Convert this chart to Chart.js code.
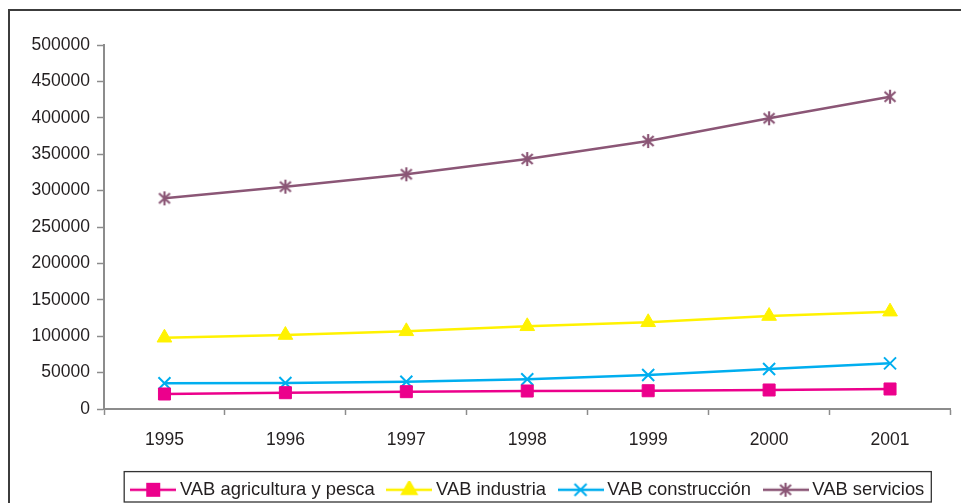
<!DOCTYPE html>
<html>
<head>
<meta charset="utf-8">
<script src="https://cdn.jsdelivr.net/npm/chart.js@4.4.1/dist/chart.umd.min.js"></script>
<style>
  body { margin: 0; background: #fff; }
</style>
</head>
<body>
<canvas id="vabChart" width="961" height="503"></canvas>
<script>
// datos
const years = ["1995", "1996", "1997", "1998", "1999", "2000", "2001"];
const agricultura = [20600, 22400, 23800, 24700, 25100, 26100, 27500];
const industria = [97900, 101600, 106700, 113600, 119100, 127700, 133700];
const construccion = [35300, 35700, 37500, 40800, 46700, 54900, 62700];
const servicios = [289400, 305400, 322400, 343400, 368100, 399300, 429000];
const seriesNames = ["VAB agricultura y pesca", "VAB industria", "VAB construcción", "VAB servicios"];
const yMin = 0;
const yMax = 500000;
const yStep = 50000;

const colors = ["#ec008c", "#fff200", "#00aeef", "#8b5676"];
const textColor = "#231f20";
const axisColor = "#8c8c8c";
const fontFamily = "'Liberation Sans', Arial, Helvetica, sans-serif";

// estrella de 6 brazos (marcador de Excel)
function makeStar(color) {
	const c = document.createElement("canvas");
	c.width = 16;
	c.height = 16;
	const g = c.getContext("2d");
	g.strokeStyle = color;
	g.lineWidth = 2.2;
	g.beginPath();
	g.moveTo(8, 1); g.lineTo(8, 15);
	g.moveTo(2.5, 3); g.lineTo(13.5, 13);
	g.moveTo(13.5, 3); g.lineTo(2.5, 13);
	g.stroke();
	return c;
}

const starIcon = makeStar(colors[3]);
const pointStyles = ["rect", "triangle", "crossRot", starIcon];
const pointRadii = [8.5, 8.5, 8.5, 8];

// icono de leyenda: linea + marcador
function makeLegendIcon(i) {
	const c = document.createElement("canvas");
	c.width = 46;
	c.height = 18;
	const g = c.getContext("2d");
	g.strokeStyle = colors[i];
	g.fillStyle = colors[i];
	g.lineWidth = 2.5;
	g.beginPath();
	g.moveTo(0, 9);
	g.lineTo(46, 9);
	g.stroke();
	g.lineWidth = 2;
	Chart.helpers.drawPoint(g, {
		pointStyle: pointStyles[i],
		radius: pointRadii[i],
		borderWidth: i === 2 ? 2 : 1,
		rotation: 0,
	}, 23, 9);
	return c;
}

const seriesData = [agricultura, industria, construccion, servicios];

const datasets = seriesData.map((values, i) => ({
	label: seriesNames[i],
	data: values,
	borderColor: colors[i],
	backgroundColor: colors[i],
	pointBackgroundColor: colors[i],
	pointBorderColor: colors[i],
	pointStyle: pointStyles[i],
	pointRadius: pointRadii[i],
	pointBorderWidth: i === 2 ? 2 : 1,
	borderWidth: 2.5,
	tension: 0,
	fill: false,
}));

// marco exterior y recuadro de la leyenda
const framePlugin = {
	id: "frame",
	afterLayout(chart) {
		const lg = chart.legend;
		const dx = 530 - (lg.left + lg.right) / 2;
		lg.left += dx;
		lg.right += dx;
		lg.top += 6;
		lg.bottom += 6;
	},
	afterDraw(chart) {
		const ctx = chart.ctx;
		const lg = chart.legend;
		const pad = lg.options.labels.padding;
		const W = lg.lineWidths[0];
		const x0 = (lg.left + pad + lg.right - W) / 2;
		const yc = lg.top + pad + 9;
		ctx.save();
		ctx.strokeStyle = "#3c3c3c";
		ctx.lineWidth = 2;
		ctx.beginPath();
		ctx.moveTo(9, chart.height);
		ctx.lineTo(9, 10);
		ctx.lineTo(chart.width, 10);
		ctx.stroke();
		ctx.strokeStyle = "#333";
		ctx.lineWidth = 1.3;
		const bx = x0 - 11.5;
		const bw = W - pad + 7 + 11.5;
		ctx.strokeRect(bx, yc - 18, bw, 502 - (yc - 18));
		ctx.restore();
	},
};

const ctx = document.getElementById("vabChart").getContext("2d");

new Chart(ctx, {
	type: "line",
	data: {
		labels: years,
		datasets: datasets,
	},
	options: {
		responsive: false,
		animation: false,
		devicePixelRatio: 1,
		layout: {
			padding: { top: 45, right: 5, left: 0, bottom: 0 },
		},
		scales: {
			x: {
				offset: true,
				grid: {
					drawOnChartArea: false,
					offset: true,
					tickLength: 6,
					color: axisColor,
					tickWidth: 1.5,
				},
				border: { color: axisColor, width: 2 },
				ticks: {
					color: textColor,
					font: { family: fontFamily, size: 17.5 },
					padding: 15,
					maxRotation: 0,
				},
				afterFit(scale) {
					scale.height = 48.6;
				},
			},
			y: {
				min: yMin,
				max: yMax,
				grid: {
					drawOnChartArea: false,
					tickLength: 7,
					color: axisColor,
					tickWidth: 1.5,
				},
				border: { color: axisColor, width: 2 },
				ticks: {
					stepSize: yStep,
					color: textColor,
					font: { family: fontFamily, size: 17.5 },
					padding: 7,
					callback: (v) => String(v),
				},
				afterFit(scale) {
					scale.width = 104;
				},
			},
		},
		plugins: {
			legend: {
				position: "bottom",
				labels: {
					usePointStyle: true,
					pointStyleWidth: 35,
					padding: 17,
					color: textColor,
					font: { family: fontFamily, size: 18.4 },
					generateLabels(chart) {
						const items = Chart.defaults.plugins.legend.labels.generateLabels(chart);
						items.forEach((it, i) => {
							it.pointStyle = makeLegendIcon(i);
						});
						return items;
					},
				},
			},
			tooltip: { enabled: false },
		},
	},
	plugins: [framePlugin],
});
</script>
</body>
</html>
